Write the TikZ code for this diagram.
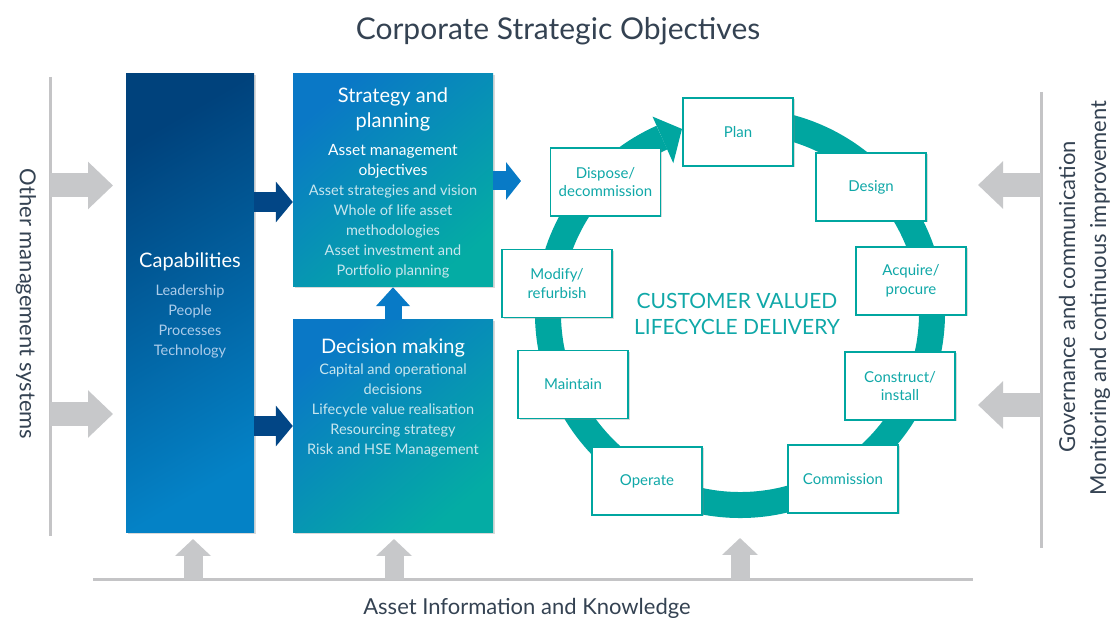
\documentclass[tikz,border=0pt]{standalone}
\usepackage{fontspec}
\setmainfont{Lato}
\usetikzlibrary{arrows.meta,shadows}
\definecolor{capdark}{RGB}{0,66,124}
\definecolor{caplight}{RGB}{4,130,198}
\definecolor{stratblue}{RGB}{10,120,198}
\definecolor{stratteal}{RGB}{4,172,164}
\definecolor{ringteal}{RGB}{0,166,160}
\definecolor{labteal}{RGB}{16,168,168}
\definecolor{arrowgrey}{RGB}{199,200,202}
\definecolor{linegrey}{RGB}{196,196,198}
\definecolor{slate}{RGB}{52,66,82}
\definecolor{navy}{RGB}{2,70,134}
\definecolor{midblue}{RGB}{8,122,198}
\definecolor{capsub}{RGB}{172,204,234}
\definecolor{stratsub}{RGB}{200,230,238}

\begin{document}
\begin{tikzpicture}[x=1pt,y=1pt,
  every node/.style={inner sep=0pt},
  bigbox/.style={minimum width=200pt, minimum height=213pt, top color=stratblue, bottom color=stratteal, shading angle=40,
    drop shadow={shadow xshift=1.5pt, shadow yshift=-1.5pt, opacity=0.3}},
  head/.style={text=white, align=center, font=\fontsize{20}{25}\selectfont},
  sub/.style={text=#1, align=center, font=\fontsize{14.5}{20}\selectfont},
  cyclebox/.style={draw=ringteal, line width=1.2pt, fill=white, minimum width=110pt, minimum height=68pt,
    text=labteal, align=center, font=\fontsize{15}{18.5}\selectfont,
    drop shadow={shadow xshift=1.5pt, shadow yshift=-1.5pt, opacity=0.3}},
  greyarrow/.style={draw=arrowgrey, line width=24pt, -{Triangle[length=25pt, width=46pt]}},
  uparrow/.style={draw=arrowgrey, line width=19pt, -{Triangle[length=17pt, width=35pt]}},
  bluearrow/.style={draw=#1, line width=20pt, -{Triangle[length=17pt, width=40pt]}},
  side/.style={text=slate, font=\fontsize{22}{26}\selectfont}]

  \useasboundingbox (0,0) rectangle (1112,618);

  \node[text=slate, font=\fontsize{30}{35}\selectfont] (title) at (558,587) {Corporate Strategic Objectives};

  \draw[linegrey, line width=3pt] (50,541) -- (50,82);
  \draw[linegrey, line width=3pt] (1041,526) -- (1041,70);
  \draw[linegrey, line width=3pt] (93,38) -- (973,38);

  \node[side, rotate=-90] (other) at (26,314) {Other management systems};
  \node[side, rotate=90] (gov) at (1067,321) {Governance and communication};
  \node[side, rotate=90] (mon) at (1100,320) {Monitoring and continuous improvement};
  \node[side] (info) at (527,10) {Asset Information and Knowledge};

  \node[minimum width=128pt, minimum height=459pt, top color=capdark, bottom color=caplight, shading angle=30,
    drop shadow={shadow xshift=1.5pt, shadow yshift=-1.5pt, opacity=0.3}] (cap) at (190,314.5) {};
  \node[bigbox] (strat) at (393,437.5) {};
  \node[bigbox] (dec) at (393,191.5) {};

  \node[head] (caphead) at (190,356) {Capabilities};
  \node[sub=capsub] (caplist) at (190,297) {Leadership\\People\\Processes\\Technology};

  \node[head] (strathead) at (393,509) {Strategy and\\planning};
  \node[sub=white, font=\fontsize{15.5}{20}\selectfont] (stratobj) at (393,457) {Asset management\\objectives};
  \node[sub=stratsub] (stratlist) at (393,387) {Asset strategies and vision\\Whole of life asset\\methodologies\\Asset investment and\\Portfolio planning};

  \node[head] (dechead) at (393,270) {Decision making};
  \node[sub=stratsub] (declist) at (393,208) {Capital and operational\\decisions\\Lifecycle value realisation\\Resourcing strategy\\Risk and HSE Management};

  \coordinate (ctr) at (740,305);
  \draw[ringteal, line width=26pt] (ctr) ++(80:192) arc[start angle=80, end angle=-246, radius=192];
  \fill[ringteal] ([shift={(114:164)}]ctr) -- ([shift={(107.5:193)}]ctr) -- ([shift={(114:215)}]ctr) -- cycle;

  \node[text=labteal, align=center, font=\fontsize{21}{26}\selectfont] (cvld) at (737,304) {CUSTOMER VALUED\\LIFECYCLE DELIVERY};

  \node[cyclebox] (plan) at (738,486) {Plan};
  \node[cyclebox] (design) at (871,431) {Design};
  \node[cyclebox] (acquire) at (911,337) {Acquire/\\procure};
  \node[cyclebox] (construct) at (900,232) {Construct/\\install};
  \node[cyclebox] (commission) at (843,139) {Commission};
  \node[cyclebox] (operate) at (647,137) {Operate};
  \node[cyclebox] (maintain) at (573,233.5) {Maintain};
  \node[cyclebox] (modify) at (557,334.5) {Modify/\\refurbish};
  \node[cyclebox] (dispose) at (605.5,436) {Dispose/\\decommission};

  \coordinate (ol1) at (50,432.5);
  \coordinate (ol2) at (50,204);
  \coordinate (or1) at (1041,433);
  \coordinate (or2) at (1041,213);
  \draw[greyarrow] (ol1) -- (113,432.5);
  \draw[greyarrow] (ol2) -- (113,204);
  \draw[greyarrow] (or1) -- (978,433);
  \draw[greyarrow] (or2) -- (978,213);

  \draw[uparrow] (193,38) -- (193,79);
  \draw[uparrow] (394,38) -- (394,79);
  \draw[uparrow] (740,38) -- (740,80);

  \draw[bluearrow=navy] (cap.east |- 0,416) -- (strat.west |- 0,416);
  \draw[bluearrow=navy] (cap.east |- 0,192) -- (dec.west |- 0,192);
  \draw[bluearrow=midblue, line width=17pt, -{Triangle[length=19pt, width=33pt]}] (dec.north) -- (strat.south);
  \draw[bluearrow=midblue, line width=19pt, -{Triangle[length=15pt, width=37pt]}] (strat.east |- 0,437) -- (521,437);
\end{tikzpicture}
\end{document}
